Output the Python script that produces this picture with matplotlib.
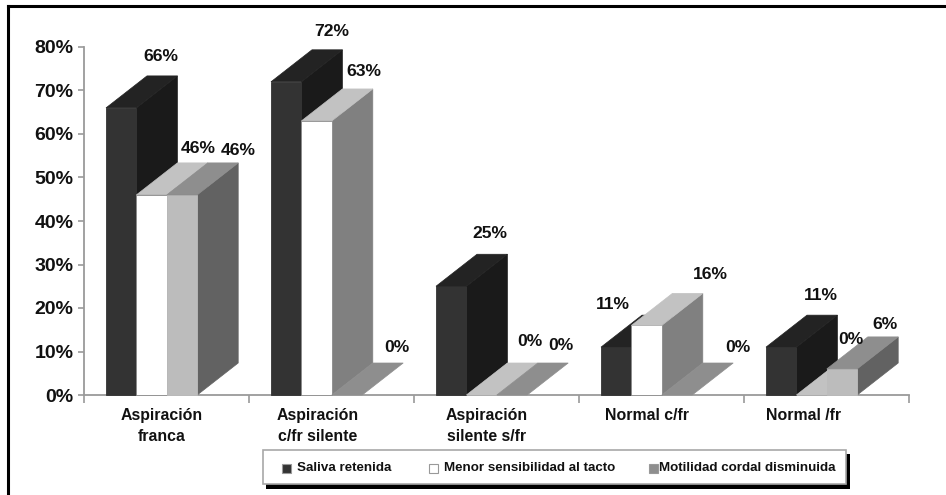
import matplotlib
matplotlib.use('Agg')
import matplotlib.pyplot as plt
from matplotlib.patches import Polygon, Rectangle
from matplotlib.lines import Line2D

plt.rcParams['font.family'] = ['Liberation Sans', 'DejaVu Sans']
plt.rcParams['font.weight'] = 'bold'

# %%
# -------------------------------
# Data
# -------------------------------
categories = ['Aspiración\nfranca', 'Aspiración\nc/fr silente', 'Aspiración\nsilente s/fr',
              'Normal c/fr', 'Normal /fr']
series_names = ['Saliva retenida', 'Menor sensibilidad al tacto', 'Motilidad cordal disminuida']
saliva = [66, 72, 25, 11, 11]
sensibilidad = [46, 63, 0, 16, 0]
motilidad = [46, 0, 0, 0, 6]
y_ticks = [0, 10, 20, 30, 40, 50, 60, 70, 80]

# %%
# -------------------------------
# Layout (pixels at dpi 100)
# -------------------------------
W, H = 946, 495
X0, X1 = 84, 909     # axis ends
Y0, Y80 = 395, 47    # 0% and 80%

bar_w = 30.4 / 165   # in group units
bar_start = 22 / 165
depth_x = 41 / 165
depth_y = 32 / 4.35  # in percent

# face colours: front, top, side
colors = [('#333333', '#232323', '#1a1a1a'),
          ('#ffffff', '#c2c2c2', '#808080'),
          ('#bcbcbc', '#8e8e8e', '#626262')]

# value label offsets from the back centre of each bar top (px right, px up)
nudge = [[(-1, 19), (6, 14), (15, 12)],
         [(5, 18), (6, 17), (9, 16)],
         [(-2, 21), (7, 22), (8, 18)],
         [(-44, 11), (23, 19), (20, 16)],
         [(-1, 20), (-2, 24), (2, 12)]]
# category label shift in px
cat_shift = [-5, -14, -10, -15, -23]


def px(x, y):
    return x / W, 1 - y / H


def draw_bar(ax, x, v, cols):
    front, top, side = cols
    r = x + bar_w
    edge = '#8a8a8a' if front == '#ffffff' else front
    if v > 0:
        ax.add_patch(Polygon([(r, 0), (r + depth_x, depth_y), (r + depth_x, v + depth_y), (r, v)],
                             closed=True, fc=side, ec=side, lw=0.5, clip_on=False, zorder=3))
        ax.add_patch(Rectangle((x, 0), bar_w, v, fc=front, ec=edge, lw=0.6, clip_on=False, zorder=3))
    ax.add_patch(Polygon([(x, v), (r, v), (r + depth_x, v + depth_y), (x + depth_x, v + depth_y)],
                         closed=True, fc=top, ec=top, lw=0.5, clip_on=False, zorder=3))


# %%
# -------------------------------
# Figure
# -------------------------------
fig = plt.figure(figsize=(W / 100, H / 100), dpi=100, facecolor='white')
ax = fig.add_axes([X0 / W, 1 - Y0 / H, (X1 - X0) / W, (Y0 - Y80) / H])
ax.set_xlim(0, len(categories))
ax.set_ylim(0, 80)
ax.patch.set_alpha(0)

for side in ['top', 'right']:
    ax.spines[side].set_visible(False)
for side in ['left', 'bottom']:
    ax.spines[side].set_color('#9a9a9a')
    ax.spines[side].set_linewidth(1.3)

ax.set_yticks(y_ticks)
ax.set_yticklabels([f'{t}%' for t in y_ticks], fontsize=14, color='#111111')
ax.set_xticks(range(len(categories) + 1))
ax.set_xticklabels([])
ax.tick_params(axis='y', length=4, width=1.2, color='#9a9a9a', pad=3.5)
ax.tick_params(axis='x', length=6, width=1.2, color='#9a9a9a')

for i in range(len(categories)):
    group = [saliva[i], sensibilidad[i], motilidad[i]]
    for j, v in enumerate(group):
        x = i + bar_start + j * bar_w
        draw_bar(ax, x, v, colors[j])
        dx, dy = nudge[i][j]
        ax.annotate(f'{v}%', (x + bar_w / 2 + depth_x, v + depth_y), xytext=(dx * 0.72, dy * 0.72),
                    textcoords='offset points', ha='center', va='center',
                    fontsize=12.6, color='#111111', zorder=5, annotation_clip=False)
    ax.annotate(categories[i], (i + 0.5, 0), xytext=(cat_shift[i] * 0.72, -9.5),
                textcoords='offset points', ha='center', va='top',
                fontsize=11.4, color='#111111', linespacing=1.45, annotation_clip=False)

# %%
# -------------------------------
# Outer frame and legend box
# -------------------------------
fig.add_artist(Line2D([8 / W, 8 / W], [0, 1 - 6 / H], color='black', lw=2.2))
fig.add_artist(Line2D([8 / W, 1], [1 - 6 / H, 1 - 6 / H], color='black', lw=2.2))


def fig_rect(x0, y0, x1, y1, **kw):
    fig.add_artist(Rectangle(px(x0, y1), (x1 - x0) / W, (y1 - y0) / H,
                             transform=fig.transFigure, **kw))


fig_rect(266, 454, 850, 489, fc='black', ec='none')
fig_rect(263, 450, 846, 484, fc='white', ec='#a8a8a8', lw=1.2)

marker_x = [282, 429, 649]
text_x = [297, 444, 659]
marker_cols = ['#333333', '#ffffff', '#8e8e8e']
for mx, tx, mc, name in zip(marker_x, text_x, marker_cols, series_names):
    fig_rect(mx, 464, mx + 9, 473, fc=mc, ec='#999999', lw=0.8)
    fig.text(*px(tx, 468), name, fontsize=9.6, color='#111111', ha='left', va='center')

fig.savefig('out.png', dpi=100)
